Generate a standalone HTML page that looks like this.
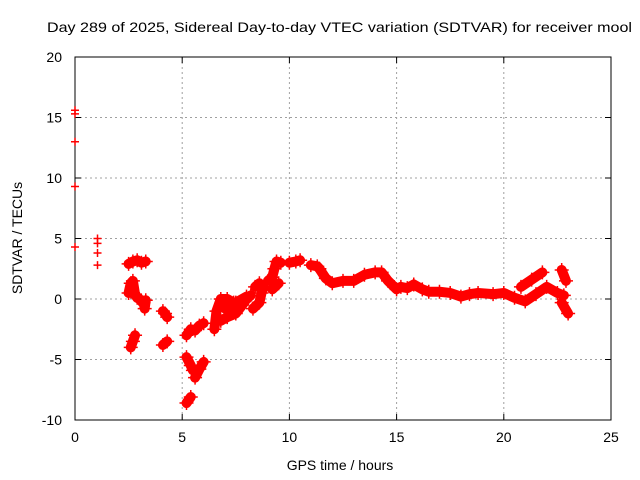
<!DOCTYPE html>
<html><head><meta charset="utf-8"><style>
html,body{margin:0;padding:0;background:#fff;}
svg{display:block;font-family:"Liberation Sans",sans-serif;}
</style></head><body>
<svg id="chart" width="640" height="480">
<rect x="0" y="0" width="640" height="480" fill="#fff"/>
<text x="47" y="32" font-size="14" textLength="585" lengthAdjust="spacingAndGlyphs">Day 289 of 2025, Sidereal Day-to-day VTEC variation (SDTVAR) for receiver mool</text>
<g id="grid"></g>
<g id="axes"></g>
<g id="marks"></g>
<text x="340" y="470" font-size="14" text-anchor="middle">GPS time / hours</text>
<text transform="translate(22,238) rotate(-90)" font-size="14" text-anchor="middle">SDTVAR / TECUs</text>
</svg>
<script>
const xTicks = [0,5,10,15,20,25];
const yTicks = [-10,-5,0,5,10,15,20];
const trackHours = [
 [0,0,0,0,0],
 [1.05,1.05,1.05,1.05],
 [2.5,2.7,2.9,3.1,3.3],
 [2.5,2.6,2.7,2.8,2.9,3.0,3.1],
 [3.2,3.25,3.3],
 [2.6,2.7,2.8],
 [4.1,4.2,4.3],
 [4.1,4.3],
 [5.2,5.4,5.6,5.8,6.0],
 [5.2,5.4,5.5],
 [5.6,5.8,6.0],
 [5.2,5.4],
 [6.5,6.6,6.8,7.1,7.4,7.6],
 [6.8,7.1,7.5,7.8,8.0,8.2],
 [7.0,7.5,8.0],
 [8.3,8.6,8.7,8.8],
 [8.4,8.6],
 [9.0,9.2,9.3,9.4,9.6],
 [9.2,9.5],
 [10.0,10.3,10.5],
 [11.0,11.3,11.4,11.7,12.0,12.5,13.0,13.5,14.0,14.3,14.6,15.0,15.2,15.5,15.8,16.2,16.5,17.0,17.5,18.0,18.4,18.8,19.5,20.0,20.5,21.0,21.5,22.0,22.5,22.8],
 [20.8,21.3,21.8],
 [22.7,22.9],
 [22.7,23.0]
];
const trackValues = [
 [15.6,15.3,13.0,9.3,4.3],
 [5.0,4.6,3.8,2.8],
 [2.9,3.1,3.2,3.0,3.1],
 [0.5,1.3,1.5,0.4,0.1,0.0,-0.2],
 [-0.3,-0.8,-0.1],
 [-4.0,-3.5,-3.0],
 [-1.0,-1.2,-1.5],
 [-3.8,-3.5],
 [-3.0,-2.5,-2.6,-2.2,-2.0],
 [-4.8,-5.5,-5.9],
 [-6.5,-5.8,-5.2],
 [-8.6,-8.1],
 [-2.5,-1.0,0.0,0.0,-0.3,-0.5],
 [-1.8,-1.5,-1.2,-0.5,0.0,0.3],
 [-0.8,-0.3,0.2],
 [-0.8,-0.3,0.5,1.0],
 [1.0,1.3],
 [1.5,1.8,2.5,3.1,3.0],
 [0.8,1.3],
 [3.0,3.1,3.2],
 [2.8,2.7,2.5,1.7,1.3,1.5,1.5,2.0,2.2,2.2,1.5,0.8,1.0,0.9,1.2,0.8,0.6,0.6,0.5,0.2,0.4,0.5,0.4,0.5,0.1,-0.2,0.4,1.0,0.5,0.3],
 [1.0,1.6,2.2],
 [2.4,1.5],
 [-0.3,-1.2]
];
const NS="http://www.w3.org/2000/svg";
const L=75,R=611,T=57,B=420;
function xs(h){return L+(h-0)/25*(R-L);}
function ys(v){return B-(v+10)/30*(B-T);}
function mk(tag,attrs,parent){const e=document.createElementNS(NS,tag);for(const k in attrs)e.setAttribute(k,attrs[k]);parent.appendChild(e);return e;}
const grid=document.getElementById('grid'),axes=document.getElementById('axes'),marks=document.getElementById('marks');
xTicks.forEach(t=>{
 const x=xs(t);
 if(t>0&&t<25){const g=mk('line',{x1:x,y1:T,x2:x,y2:B,stroke:'#a0a0a0','stroke-dasharray':'2,3'},grid);
 
 }
 mk('line',{x1:x,y1:B,x2:x,y2:B-6,stroke:'#000'},axes);
 mk('line',{x1:x,y1:T,x2:x,y2:T+6,stroke:'#000'},axes);
 const lb=mk('text',{x:x,y:B+22,'font-size':14,'text-anchor':'middle'},axes);
 lb.textContent=t;
 
 
});
yTicks.forEach(t=>{
 const y=ys(t);
 if(t>-10&&t<20){const g=mk('line',{x1:L,y1:y,x2:R,y2:y,stroke:'#a0a0a0','stroke-dasharray':'2,3'},grid);
 
 }
 mk('line',{x1:L,y1:y,x2:L+6,y2:y,stroke:'#000'},axes);
 mk('line',{x1:R,y1:y,x2:R-6,y2:y,stroke:'#000'},axes);
 const lb=mk('text',{x:L-13,y:y+5,'font-size':14,'text-anchor':'end'},axes);
 lb.textContent=t;
 
 
});
const fr=mk('rect',{x:L,y:T,width:R-L,height:B-T,fill:'none',stroke:'#000'},axes);


trackHours.forEach((hs,i)=>{
 const vs=trackValues[i];
 const isolated=(i<2);
 if(!isolated&&hs.length>1){
  const pl=mk('polyline',{points:hs.map((h,j)=>xs(h)+','+ys(vs[j])).join(' '),fill:'none',stroke:'#f00','stroke-width':10,'stroke-linejoin':'round','stroke-linecap':'round'},marks);
  
  
 }
 hs.forEach((h,j)=>{
  const x=xs(h),y=ys(vs[j]);
  const s=isolated?4:7;
  const p=mk('path',{d:`M${x-s},${y}H${x+s}M${x},${y-s}V${y+s}`,stroke:'#f00','stroke-width':1.5},marks);
  
  
 });
});
</script>
</body></html>
